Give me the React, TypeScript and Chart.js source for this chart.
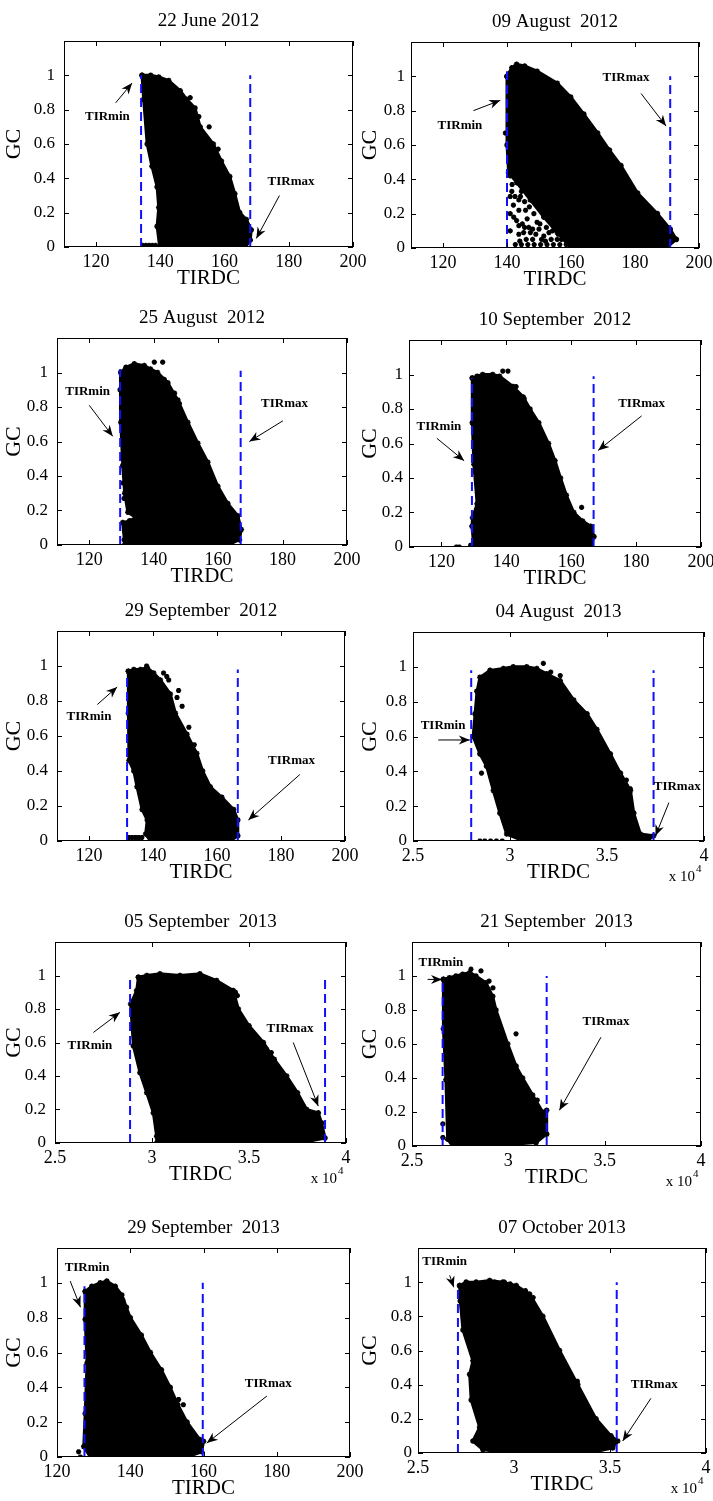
import React, { useEffect, useRef } from 'react';
import { Chart, registerables } from 'chart.js';

Chart.register(...registerables);

const FONT = '"Liberation Serif", "DejaVu Serif", serif';

// ---------- tick values / labels ----------
const yTickValues = [0, 0.2, 0.4, 0.6, 0.8, 1];
const yTickLabels = ['0', '0.2', '0.4', '0.6', '0.8', '1'];
const xTicks2012 = [120, 140, 160, 180, 200];
const xTickLabels2012 = ['120', '140', '160', '180', '200'];
const xTicks2013 = [2.5, 3, 3.5, 4];
const xTickLabels2013 = ['2.5', '3', '3.5', '4'];

// ---------- titles ----------
const panelTitles = [
  '22 June 2012',
  '09 August  2012',
  '25 August  2012',
  '10 September  2012',
  '29 September  2012',
  '04 August  2013',
  '05 September  2013',
  '21 September  2013',
  '29 September  2013',
  '07 October 2013',
];

// ---------- point-cloud outlines (TIRDC, GC) ----------
const jun22Cloud = [[134.3,1.0],[137,1.0],[139.5,0.99],[142.6,0.97],[146.2,0.91],[148.2,0.86],[150.8,0.81],[152.4,0.7],[156.5,0.6],[159,0.5],[161.6,0.41],[163.2,0.31],[164.7,0.2],[166.8,0.16],[168.3,0.1],[168,0.04],[166.5,0],[150,0],[139.8,0],[139,0.12],[139.5,0.23],[139,0.35],[137.4,0.47],[135.9,0.6],[134.8,0.86],[134.3,1.0]];
const jun22Dots = [[149.3,0.87],[155.2,0.7],[158,0.57],[134.5,0.01],[135.5,0.01],[136.5,0.01],[137.5,0.01],[138.5,0.01],[145,0.88],[152,0.76]];
const jun22Tir = [134, 1.0, 168, 1.0];

const aug09Cloud = [[140,1.0],[141.5,1.05],[143,1.07],[145.5,1.06],[149.4,1.03],[155.7,0.96],[159.9,0.88],[164,0.78],[168.3,0.67],[172,0.57],[175.6,0.48],[180.8,0.32],[187,0.2],[191,0.11],[192.9,0.05],[190.3,0.01],[175,0],[160,0],[155.7,0.09],[151.5,0.18],[147.3,0.28],[143.1,0.38],[140.5,0.44],[140,0.6],[140,1.0]];
const aug09Dots = [[142.6,0.02],[144.5,0.02],[146.5,0.02],[148.5,0.02],[150.5,0.02],[152.5,0.02],[154.5,0.02],[156.5,0.02],[158.5,0.02],[143.7,0.28],[143.7,0.22],[143.7,0.13],[143.7,0.08],[141.6,0.37],[144.2,0.3],[146.3,0.17],[148.4,0.2],[150,0.11],[151.5,0.07],[153.1,0.09],[155.7,0.05],[147.3,0.09],[145.2,0.09],[139.5,0.67],[142.1,0.18],[145.8,0.22],[149.4,0.15],[192.9,0.05],
  [141,0.42],[141.5,0.33],[142.5,0.3],[142,0.25],[143,0.16],[144.8,0.14],[145.5,0.12],[146.8,0.12],[148,0.11],[149,0.08],[150.8,0.05],[152,0.04],[153.8,0.05],[146,0.05],[144,0.04],[148,0.05],[150.3,0.14],[152.3,0.12],[154.2,0.1],[147,0.24],[145.5,0.27],[144.5,0.33],[141,0.1],[141,0.2],[141,0.3],[157,0.05],[156,0.08]];
const aug09Tir = [140, 1.03, 191, 1.0];

const aug25Cloud = [[129.8,1.0],[131.4,1.03],[134,1.05],[137.1,1.04],[139,1.02],[141.2,1.0],[144.4,0.94],[147.5,0.84],[150.6,0.71],[153.7,0.59],[156.8,0.48],[159.9,0.34],[163,0.24],[166.1,0.17],[167.2,0.09],[166.6,0.03],[163,0],[143.3,0],[131,0],[130.9,0.03],[130.4,0.13],[132.5,0.14],[134.5,0.16],[132,0.19],[131,0.3],[130.4,0.46],[129.8,0.71],[129.6,0.9],[129.8,1.0]];
const aug25Dots = [[140.2,1.06],[142.8,1.06],[143.3,0.96],[144.9,0.85],[146.5,0.88],[148,0.82],[130.5,0.36],[130.8,0.27]];
const aug25Tir = [129.6, 1.02, 167, 1.01];

const sep10Cloud = [[129.5,0.98],[131,0.99],[132.7,1.0],[135.8,1.0],[137.9,0.99],[142.1,0.93],[145.2,0.87],[147.3,0.8],[150,0.72],[153,0.6],[155,0.5],[156.7,0.4],[158.5,0.3],[160.8,0.2],[163.5,0.15],[166,0.12],[167,0.06],[166,0],[145,0],[130,0],[129.4,0.12],[129.6,0.17],[131,0.25],[130,0.48],[129.5,0.72],[129.5,0.98]];
const sep10Dots = [[138.9,1.02],[140.5,1.02],[143,0.93],[145.5,0.86],[163.2,0.23],[124.6,0.0],[125.5,0.0],[129,0.01]];
const sep10Tir = [129.4, 0.98, 166.9, 0.99];

const sep29Cloud = [[132.3,0.97],[134,0.98],[136.1,0.98],[138.2,0.99],[140.2,0.96],[142.3,0.92],[145.4,0.84],[147,0.73],[150.6,0.61],[153.7,0.5],[155.5,0.4],[157.9,0.31],[161.5,0.25],[165.2,0.18],[166.5,0.12],[166.5,0.03],[164.2,0],[139.2,0],[137.7,0.04],[138.2,0.12],[136.6,0.18],[135,0.31],[134,0.4],[132.5,0.46],[132.3,0.73],[132.3,0.97]];
const sep29Dots = [[143.3,0.96],[144.3,0.94],[144.9,0.92],[148,0.86],[147.5,0.82],[149.1,0.77],[151.2,0.65],[152.9,0.55],[138,1.0],[132.5,0.02],[133.5,0.02],[134.5,0.02],[135.5,0.02],[136.5,0.02]];
const sep29Tir = [131.9, 0.96, 166.5, 0.98];

const aug04Cloud = [[2.83,0.86],[2.845,0.94],[2.897,0.98],[2.966,0.99],[3.017,1.0],[3.086,1.0],[3.138,0.99],[3.19,0.96],[3.259,0.92],[3.328,0.81],[3.397,0.73],[3.448,0.64],[3.517,0.5],[3.569,0.39],[3.621,0.29],[3.638,0.16],[3.672,0.04],[3.74,0.03],[3.707,0],[3.414,0],[3.069,0],[2.983,0.04],[2.948,0.16],[2.914,0.29],[2.879,0.43],[2.845,0.5],[2.81,0.6],[2.82,0.73],[2.83,0.86]];
const aug04Dots = [[2.845,0],[2.87,0],[2.9,0],[2.93,0],[2.96,0],[3.172,1.02],[3.21,0.97],[3.259,0.95],[3.19,0.9],[3.2,0.88],[2.853,0.39],[3.62,0.3],[3.6,0.35]];
const aug04Tir = [2.8, 0.98, 3.74, 0.98];

const sep05Cloud = [[2.93,0.99],[2.973,1.0],[3.041,1.01],[3.144,1.0],[3.247,1.01],[3.333,0.97],[3.419,0.91],[3.445,0.8],[3.5,0.7],[3.574,0.6],[3.63,0.5],[3.694,0.4],[3.75,0.3],[3.797,0.2],[3.857,0.18],[3.874,0.12],[3.892,0.03],[3.763,0],[3.247,0],[3.024,0],[3.024,0.04],[3.007,0.18],[2.973,0.3],[2.938,0.42],[2.904,0.58],[2.89,0.83],[2.921,0.91],[2.93,0.99]];
const sep05Dots = [[3.43,0.9],[3.44,0.88],[3.59,0.56],[3.615,0.54],[3.78,0.22],[3.83,0.18],[3.08,0],[3.12,0],[3.16,0],[3.08,0.04],[3.12,0.04]];
const sep05Tir = [2.887, 0.98, 3.892, 1.0];

const sep21Cloud = [[2.663,0.98],[2.694,0.99],[2.728,1.0],[2.763,1.01],[2.8,1.02],[2.832,1.0],[2.884,0.96],[2.919,0.88],[2.936,0.8],[2.997,0.6],[3.04,0.47],[3.074,0.4],[3.126,0.3],[3.178,0.2],[3.199,0.21],[3.199,0.07],[3.144,0.02],[2.901,0],[2.711,0],[2.685,0.04],[2.676,0.39],[2.663,0.69],[2.663,0.98]];
const sep21Dots = [[2.806,1.04],[2.858,1.03],[2.9,0.97],[2.92,0.93],[3.04,0.66],[3.15,0.27],[3.13,0.26],[2.66,0.13],[2.66,0.05]];
const sep21Tir = [2.659, 0.98, 3.199, 1.0];

const sep29bCloud = [[127.7,0.95],[129.5,0.98],[131.8,1.0],[133.6,1.01],[135.9,0.98],[137.7,0.93],[140,0.8],[143,0.7],[145.5,0.6],[148.5,0.5],[150.9,0.4],[153,0.3],[155.5,0.2],[159,0.1],[160,0.09],[159.5,0.03],[155.5,0],[140.9,0],[129.1,0],[127.3,0.06],[127.7,0.25],[128.2,0.54],[127.7,0.79],[127.7,0.95]];
const sep29bDots = [[125.9,0.03],[126.4,0.0],[138,0.9],[139,0.86],[153.2,0.33],[154.5,0.3]];
const sep29bTir = [127.5, 0.98, 159.8, 1.0];

const oct07Cloud = [[2.717,0.98],[2.751,1.0],[2.803,1.0],[2.873,1.01],[2.942,1.0],[3.012,0.98],[3.081,0.93],[3.15,0.8],[3.237,0.6],[3.332,0.4],[3.427,0.2],[3.505,0.1],[3.54,0.07],[3.514,0.03],[3.393,0],[2.96,0],[2.838,0.02],[2.786,0.07],[2.821,0.15],[2.777,0.31],[2.769,0.46],[2.786,0.54],[2.734,0.72],[2.72,0.89],[2.717,0.98]];
const oct07Dots = [[2.9,1.0],[2.95,1.0],[2.98,0.99],[3.06,0.95],[3.1,0.91],[3.08,0.88],[3.33,0.42],[3.31,0.4],[2.8,0.07],[2.84,0.06]];
const oct07Tir = [2.708, 0.98, 3.535, 1.0];

// ---------- panel layout (boxes in page px) & annotations (data coords) ----------
type Ann = { text: string; at: number[]; from: number[]; to: number[] };
type PanelCfg = {
  title: string; cloud: number[][]; dots: number[][]; tir: number[];
  box: number[]; col: number; xMin: number; xMax: number;
  xt: number[]; xl: string[]; exp: boolean; anns: Ann[];
};

const mk = (text: string, at: number[], from: number[], to: number[]): Ann => ({ text, at, from, to });

const panels: PanelCfg[] = [
  { title: panelTitles[0], cloud: jun22Cloud, dots: jun22Dots, tir: jun22Tir, box: [64, 41, 353, 247], col: 0, xMin: 110, xMax: 200, xt: xTicks2012, xl: xTickLabels2012, exp: false,
    anns: [mk('TIRmin', [123.5, 0.76], [126.1, 0.84], [131.2, 0.955]), mk('TIRmax', [180.7, 0.38], [177.1, 0.3], [169.9, 0.05])] },
  { title: panelTitles[1], cloud: aug09Cloud, dots: aug09Dots, tir: aug09Tir, box: [411, 42, 699, 248], col: 1, xMin: 110, xMax: 200, xt: xTicks2012, xl: xTickLabels2012, exp: false,
    anns: [mk('TIRmin', [125.3, 0.71], [129.5, 0.8], [137.9, 0.86]), mk('TIRmax', [177.2, 0.99], [181.9, 0.9], [189.7, 0.71])] },
  { title: panelTitles[2], cloud: aug25Cloud, dots: aug25Dots, tir: aug25Tir, box: [57, 338, 347, 545], col: 0, xMin: 110, xMax: 200, xt: xTicks2012, xl: xTickLabels2012, exp: false,
    anns: [mk('TIRmin', [119.5, 0.89], [120, 0.81], [127.3, 0.63]), mk('TIRmax', [180.6, 0.82], [180.1, 0.72], [169.7, 0.6])] },
  { title: panelTitles[3], cloud: sep10Cloud, dots: sep10Dots, tir: sep10Tir, box: [409, 340, 701, 547], col: 1, xMin: 110, xMax: 200, xt: xTicks2012, xl: xTickLabels2012, exp: false,
    anns: [mk('TIRmin', [119.2, 0.7], [118.6, 0.63], [127, 0.5]), mk('TIRmax', [181.7, 0.83], [181.7, 0.76], [168.3, 0.56])] },
  { title: panelTitles[4], cloud: sep29Cloud, dots: sep29Dots, tir: sep29Tir, box: [57, 631, 345, 841], col: 0, xMin: 110, xMax: 200, xt: xTicks2012, xl: xTickLabels2012, exp: false,
    anns: [mk('TIRmin', [120, 0.71], [122.6, 0.78], [128.8, 0.88]), mk('TIRmax', [183.3, 0.46], [185.9, 0.38], [169.8, 0.12])] },
  { title: panelTitles[5], cloud: aug04Cloud, dots: aug04Dots, tir: aug04Tir, box: [413, 632, 704, 841], col: 1, xMin: 2.5, xMax: 4, xt: xTicks2013, xl: xTickLabels2013, exp: true,
    anns: [mk('TIRmin', [2.655, 0.66], [2.63, 0.58], [2.793, 0.58]), mk('TIRmax', [3.862, 0.31], [3.819, 0.22], [3.75, 0.03])] },
  { title: panelTitles[6], cloud: sep05Cloud, dots: sep05Dots, tir: sep05Tir, box: [55, 942, 346, 1143], col: 0, xMin: 2.5, xMax: 4, xt: xTicks2013, xl: xTickLabels2013, exp: true,
    anns: [mk('TIRmin', [2.68, 0.58], [2.698, 0.66], [2.835, 0.78]), mk('TIRmax', [3.711, 0.68], [3.728, 0.6], [3.857, 0.22])] },
  { title: panelTitles[7], cloud: sep21Cloud, dots: sep21Dots, tir: sep21Tir, box: [412, 942, 701, 1146], col: 1, xMin: 2.5, xMax: 4, xt: xTicks2013, xl: xTickLabels2013, exp: true,
    anns: [mk('TIRmin', [2.65, 1.08], [2.581, 0.98], [2.656, 0.98]), mk('TIRmax', [3.507, 0.73], [3.481, 0.64], [3.265, 0.21])] },
  { title: panelTitles[8], cloud: sep29bCloud, dots: sep29bDots, tir: sep29bTir, box: [57, 1248, 350, 1457], col: 0, xMin: 120, xMax: 200, xt: xTicks2012, xl: xTickLabels2012, exp: false,
    anns: [mk('TIRmin', [128.2, 1.09], [123.6, 1.01], [126.4, 0.86]), mk('TIRmax', [177.7, 0.42], [177.3, 0.35], [160.9, 0.08])] },
  { title: panelTitles[9], cloud: oct07Cloud, dots: oct07Dots, tir: oct07Tir, box: [418, 1248, 706, 1453], col: 1, xMin: 2.5, xMax: 4, xt: xTicks2013, xl: xTickLabels2013, exp: true,
    anns: [mk('TIRmin', [2.639, 1.12], [2.665, 1.04], [2.686, 0.97]), mk('TIRmax', [3.73, 0.4], [3.713, 0.32], [3.566, 0.07])] },
];

const TOP_SPACE = 42;
const BOTTOM_SPACE = 48;

function drawArrow(ctx: CanvasRenderingContext2D, x1: number, y1: number, x2: number, y2: number) {
  ctx.beginPath();
  ctx.moveTo(x1, y1);
  ctx.lineTo(x2, y2);
  ctx.stroke();
  const a = Math.atan2(y2 - y1, x2 - x1);
  const L = 11, W = 4.5;
  const bx = x2 - L * Math.cos(a), by = y2 - L * Math.sin(a);
  const nx = x2 - L * 0.7 * Math.cos(a), ny = y2 - L * 0.7 * Math.sin(a);
  ctx.beginPath();
  ctx.moveTo(x2, y2);
  ctx.lineTo(bx + W * Math.sin(a), by - W * Math.cos(a));
  ctx.lineTo(nx, ny);
  ctx.lineTo(bx - W * Math.sin(a), by + W * Math.cos(a));
  ctx.closePath();
  ctx.fill();
}

function Panel({ cfg }: { cfg: PanelCfg }) {
  const ref = useRef<HTMLCanvasElement | null>(null);
  const canvasLeft = cfg.col === 0 ? 0 : 356;
  const canvasWidth = cfg.col === 0 ? 400 : 357;
  const canvasTop = cfg.box[1] - TOP_SPACE;
  const canvasHeight = cfg.box[3] - cfg.box[1] + TOP_SPACE + BOTTOM_SPACE;
  const yAxisWidth = cfg.box[0] - canvasLeft;
  const padRight = canvasLeft + canvasWidth - cfg.box[2];

  useEffect(() => {
    const cv = ref.current;
    if (!cv) return;
    const decor = {
      id: 'decor',
      afterDraw(chart: any) {
        const { ctx, chartArea: a, scales } = chart;
        const xs = scales.x, ys = scales.y;
        ctx.save();
        ctx.strokeStyle = '#000';
        ctx.fillStyle = '#000';
        ctx.lineWidth = 1;
        ctx.strokeRect(a.left + 0.5, a.top + 0.5, a.right - a.left - 1, a.bottom - a.top - 1);
        const tl = 5;
        cfg.xt.forEach((v) => {
          const px = Math.round(xs.getPixelForValue(v)) + 0.5;
          ctx.beginPath();
          ctx.moveTo(px, a.bottom); ctx.lineTo(px, a.bottom - tl);
          ctx.moveTo(px, a.top); ctx.lineTo(px, a.top + tl);
          ctx.stroke();
        });
        yTickValues.forEach((v) => {
          const py = Math.round(ys.getPixelForValue(v)) + 0.5;
          ctx.beginPath();
          ctx.moveTo(a.left, py); ctx.lineTo(a.left + tl, py);
          ctx.moveTo(a.right, py); ctx.lineTo(a.right - tl, py);
          ctx.stroke();
        });
        // title
        ctx.font = `19px ${FONT}`;
        ctx.textAlign = 'center';
        ctx.textBaseline = 'middle';
        ctx.fillText(cfg.title, (a.left + a.right) / 2, a.top - 20);
        // annotations
        ctx.lineWidth = 1;
        cfg.anns.forEach((an) => {
          drawArrow(ctx, xs.getPixelForValue(an.from[0]), ys.getPixelForValue(an.from[1]),
            xs.getPixelForValue(an.to[0]), ys.getPixelForValue(an.to[1]));
          ctx.font = `bold 13px ${FONT}`;
          ctx.fillText(an.text, xs.getPixelForValue(an.at[0]), ys.getPixelForValue(an.at[1]));
        });
        if (cfg.exp) {
          const ex = a.right - 9, ey = a.bottom + 36;
          ctx.font = `15px ${FONT}`;
          ctx.textAlign = 'right';
          ctx.fillText('x 10', ex, ey);
          ctx.font = `11px ${FONT}`;
          ctx.textAlign = 'left';
          ctx.fillText('4', ex + 1, ey - 8);
        }
        ctx.restore();
      },
    };

    const pts = (arr: number[][]) => arr.map((p) => ({ x: p[0], y: p[1] }));
    const chart = new Chart(cv, {
      type: 'scatter',
      data: {
        datasets: [
          {
            data: [{ x: cfg.tir[0], y: 0 }, { x: cfg.tir[0], y: cfg.tir[1] }],
            showLine: true, borderColor: '#1010ff', borderWidth: 2, borderDash: [9, 5],
            pointRadius: 0, order: 0,
          },
          {
            data: [{ x: cfg.tir[2], y: 0 }, { x: cfg.tir[2], y: cfg.tir[3] }],
            showLine: true, borderColor: '#1010ff', borderWidth: 2, borderDash: [9, 5],
            pointRadius: 0, order: 0,
          },
          {
            data: pts(cfg.dots),
            pointStyle: 'star', pointRadius: 2.6, borderColor: '#000', backgroundColor: '#000',
            pointBorderWidth: 1.6, order: 1,
          },
          {
            data: pts(cfg.cloud),
            showLine: true, fill: 'shape', tension: 0,
            borderColor: '#000', backgroundColor: '#000', borderWidth: 3,
            pointStyle: 'star', pointRadius: 2.8, pointBorderWidth: 1.6, pointBackgroundColor: '#000', pointBorderColor: '#000',
            order: 2,
          },
        ] as any,
      },
      options: {
        animation: false,
        responsive: false,
        events: [],
        layout: { padding: { left: 0, top: TOP_SPACE, right: padRight, bottom: 0 } },
        plugins: { legend: { display: false }, tooltip: { enabled: false }, title: { display: false } },
        scales: {
          x: {
            type: 'linear', min: cfg.xMin, max: cfg.xMax,
            afterBuildTicks: (s: any) => { s.ticks = cfg.xt.map((v) => ({ value: v })); },
            afterFit: (s: any) => { s.height = BOTTOM_SPACE; s.paddingLeft = 0; s.paddingRight = 0; },
            ticks: {
              autoSkip: false, maxRotation: 0, padding: 4, color: '#000',
              font: { family: FONT, size: 18 },
              callback: (v: any) => { const i = cfg.xt.indexOf(Number(v)); return i >= 0 ? cfg.xl[i] : ''; },
            },
            grid: { display: false, drawTicks: false },
            border: { display: false },
            title: { display: true, text: 'TIRDC', color: '#000', font: { family: FONT, size: 21 }, padding: { top: 0, bottom: 4 } },
          },
          y: {
            type: 'linear', min: 0, max: 1.2,
            afterBuildTicks: (s: any) => { s.ticks = yTickValues.map((v) => ({ value: v })); },
            afterFit: (s: any) => { s.width = yAxisWidth; s.paddingTop = 0; s.paddingBottom = 0; },
            ticks: {
              autoSkip: false, padding: cfg.col === 0 ? 9 : 6, color: '#000',
              font: { family: FONT, size: 17 },
              callback: (v: any) => { const i = yTickValues.indexOf(Number(v)); return i >= 0 ? yTickLabels[i] : ''; },
            },
            grid: { display: false, drawTicks: false },
            border: { display: false },
            title: { display: true, text: 'GC', color: '#000', font: { family: FONT, size: 22 }, padding: { top: 1, bottom: 0 } },
          },
        },
      } as any,
      plugins: [decor],
    });
    return () => chart.destroy();
  }, []);

  return (
    <canvas
      ref={ref}
      width={canvasWidth}
      height={canvasHeight}
      style={{ position: 'absolute', left: canvasLeft, top: canvasTop, width: canvasWidth, height: canvasHeight }}
    />
  );
}

export default function App() {
  return (
    <div style={{ position: 'absolute', left: 0, top: 0, width: 713, height: 1501, background: '#fff', overflow: 'hidden' }}>
      {panels.map((p, i) => (
        <Panel key={i} cfg={p} />
      ))}
    </div>
  );
}
